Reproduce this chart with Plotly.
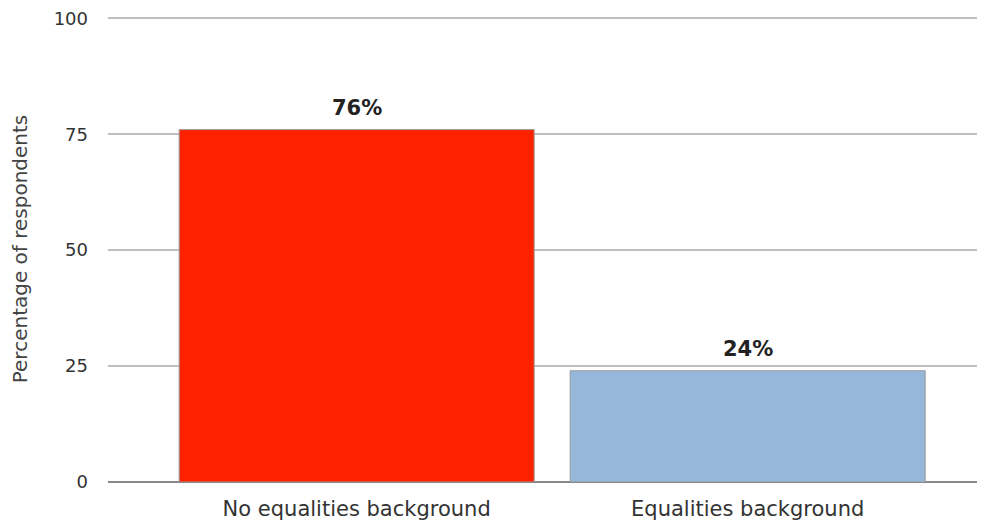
import plotly.graph_objects as go

categories = ["No equalities background", "Equalities background"]
values = [76, 24]
labels = ["76%", "24%"]
colors = ["#ff2200", "#95b7da"]
y_ticks = [0, 25, 50, 75, 100]

FONT = "DejaVu Sans, Verdana, sans-serif"

fig = go.Figure()
fig.add_trace(go.Bar(
    x=[0, 1], y=values, width=0.908,
    marker=dict(color=colors, line=dict(color="#9a9a9a", width=1)),
    hoverinfo="skip",
))

for i, (v, t) in enumerate(zip(values, labels)):
    fig.add_annotation(x=i, y=v, text=f"<b>{t}</b>", showarrow=False,
                       yanchor="bottom", yshift=8,
                       font=dict(family=FONT, size=21, color="#222222"))

fig.update_layout(
    width=985, height=529,
    margin=dict(l=100, r=8, t=8, b=55),
    paper_bgcolor="white", plot_bgcolor="white",
    showlegend=False,
    font=dict(family=FONT, color="#333333"),
    xaxis=dict(
        range=[-0.636, 1.607], tickvals=[0, 1], ticktext=categories,
        showgrid=False, zeroline=False, showline=False,
        ticks="", ticklabelstandoff=12,
        tickfont=dict(size=21, color="#333333"),
    ),
    yaxis=dict(
        range=[0, 100.5], tickvals=y_ticks,
        showgrid=True, gridcolor="#c0c0c0", gridwidth=2,
        zeroline=True, zerolinecolor="#888888", zerolinewidth=1.5,
        showline=False, ticks="", ticklabelstandoff=19,
        ticklabeloverflow="allow", automargin="left",
        tickfont=dict(size=18, color="#333333"),
        title=dict(text="Percentage of respondents", standoff=22,
                   font=dict(size=20, color="#444444")),
    ),
)

fig.write_html("out.html")
